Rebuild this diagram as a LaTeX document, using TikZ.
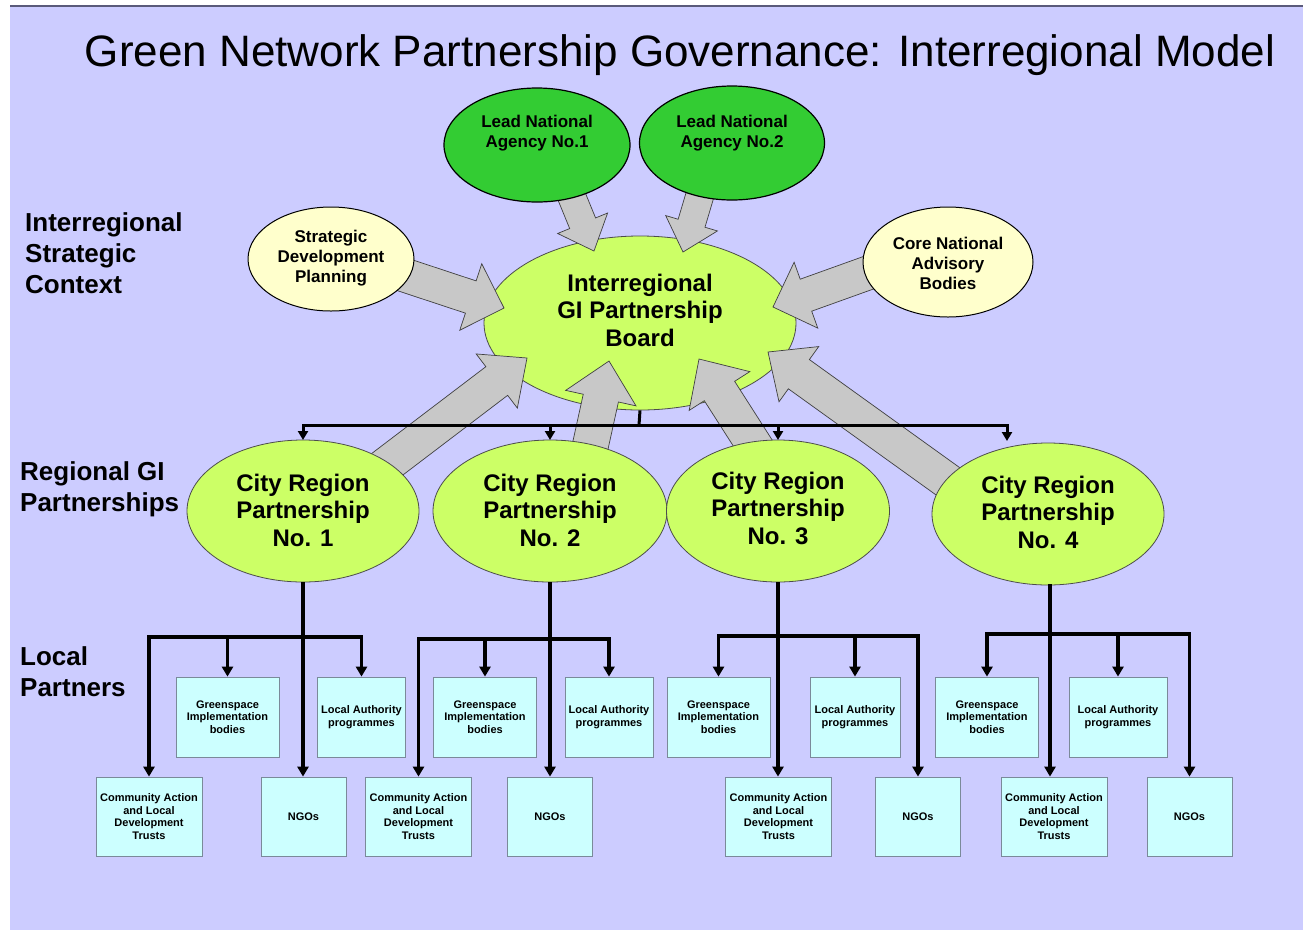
\documentclass[tikz,border=0pt]{standalone}
\usepackage{fontspec}
\setmainfont{Liberation Sans}
\usepackage{tikz}
\usetikzlibrary{arrows.meta, positioning, calc, shapes.geometric}
\definecolor{slidebg}{HTML}{CCCCFF}
\definecolor{frameline}{HTML}{5A5A7A}
\definecolor{agencygreen}{HTML}{33CC33}
\definecolor{contextyellow}{HTML}{FFFFCC}
\definecolor{boardlime}{HTML}{CCFF66}
\definecolor{partnercyan}{HTML}{CCFFFF}
\definecolor{boxline}{HTML}{7A8A9A}
\definecolor{flowgrey}{HTML}{C8C8C8}

% fat grey arrow: tail, tip, body half width, head half width, head length
\newcommand{\blockarrow}[5]{%
  \coordinate (ba-neck) at ($(#2)!#5!(#1)$);
  \draw[flow] ($(#1)!#3!90:(#2)$) -- ($(ba-neck)!#3!90:(#2)$) -- ($(ba-neck)!#4!90:(#2)$)
    -- (#2) -- ($(ba-neck)!#4!-90:(#2)$) -- ($(ba-neck)!#3!-90:(#2)$) -- ($(#1)!#3!-90:(#2)$) -- cycle;
}

\begin{document}
\begin{tikzpicture}[x=1pt, y=-1pt,
    title/.style={font=\fontsize{44}{50}\selectfont, anchor=base},
    tier/.style={font=\fontsize{26}{31}\selectfont\bfseries, align=left, anchor=west, inner sep=0pt},
    agency/.style={ellipse, draw=black, line width=1.2pt, fill=agencygreen, inner sep=0pt},
    advisory/.style={ellipse, draw=black, line width=1pt, fill=contextyellow, inner sep=0pt},
    hub/.style={ellipse, draw=black!70, line width=0.8pt, fill=boardlime, inner sep=0pt},
    smalltxt/.style={font=\fontsize{17}{20}\selectfont\bfseries, align=center, inner sep=0pt},
    bigtxt/.style={font=\fontsize{24}{27.5}\selectfont\bfseries, align=center, inner sep=0pt},
    partner/.style={draw=boxline, line width=0.8pt, fill=partnercyan, align=center, inner sep=1pt,
      font=\fontsize{11}{12.5}\selectfont\bfseries},
    flow/.style={draw=black!75, line width=0.7pt, fill=flowgrey, line join=miter},
    link/.style={line width=3pt, -{Triangle[length=9pt,width=10pt]}},
    branch/.style={line width=3.3pt, -{Triangle[length=10pt,width=11pt]}},
]
\useasboundingbox (0,0) rectangle (1303,930);

% slide background
\fill[white] (0,0) rectangle (1303,930);
\fill[slidebg] (10,6) rectangle (1303,930);
\draw[frameline, line width=1.5pt] (10,6) -- (1303,6);

\node[title] (title) at (680,66) {Green Network Partnership Governance: Interregional Model};

% tier labels
\node[tier] (tier1) at (25,253) {Interregional\\Strategic\\Context};
\node[tier] (tier2) at (20,489) {Regional GI\\Partnerships};
\node[tier] (tier3) at (20,672) {Local\\Partners};

% central board
\node[hub, minimum width=312pt, minimum height=174pt] (board) at (640,323) {};
\node[bigtxt] (board-txt) at (640,310) {Interregional\\GI Partnership\\Board};

% grey influence arrows
\coordinate (f1s) at (560,168); \coordinate (f1t) at (594,251);
\coordinate (f2s) at (708,168); \coordinate (f2t) at (683,252);
\coordinate (f3s) at (380,267); \coordinate (f3t) at (504,308);
\coordinate (f4s) at (890,265); \coordinate (f4t) at (773,307);
\coordinate (f5s) at (360,485); \coordinate (f5t) at (527,358);
\coordinate (f6s) at (585,470); \coordinate (f6t) at (609,361);
\coordinate (f7s) at (770,470); \coordinate (f7t) at (699,359);
\coordinate (f8s) at (960,490); \coordinate (f8t) at (768,352);
\blockarrow{f1s}{f1t}{14pt}{27pt}{30pt}
\blockarrow{f2s}{f2t}{14pt}{27pt}{30pt}
\blockarrow{f3s}{f3t}{17pt}{35pt}{35pt}
\blockarrow{f4s}{f4t}{17pt}{35pt}{35pt}
\blockarrow{f5s}{f5t}{18pt}{34pt}{38pt}
\blockarrow{f6s}{f6t}{18pt}{36pt}{38pt}
\blockarrow{f7s}{f7t}{18pt}{36pt}{38pt}
\blockarrow{f8s}{f8t}{18pt}{34pt}{38pt}

% national level
\node[agency, minimum width=186pt, minimum height=114pt] (lna1) at (537,145) {};
\node[smalltxt] (lna1-txt) at (537,133) {Lead National\\Agency No.1};
\node[agency, minimum width=185pt, minimum height=114pt] (lna2) at (732,143) {};
\node[smalltxt] (lna2-txt) at (732,133) {Lead National\\Agency No.2};
\node[advisory, minimum width=166pt, minimum height=104pt] (sdp) at (331,259) {};
\node[smalltxt] (sdp-txt) at (331,258) {Strategic\\Development\\Planning};
\node[advisory, minimum width=170pt, minimum height=110pt] (cnab) at (948,262) {};
\node[smalltxt] (cnab-txt) at (948,263) {Core National\\Advisory\\Bodies};

% city region partnerships
\node[hub, minimum width=232pt, minimum height=142pt] (crp1) at (303,511) {};
\node[bigtxt] (crp1-txt) at (303,510) {City Region\\Partnership\\No. 1};
\node[hub, minimum width=234pt, minimum height=142pt] (crp2) at (550,511) {};
\node[bigtxt] (crp2-txt) at (550,510) {City Region\\Partnership\\No. 2};
\node[hub, minimum width=223pt, minimum height=142pt] (crp3) at (778,511) {};
\node[bigtxt] (crp3-txt) at (778,508) {City Region\\Partnership\\No. 3};
\node[hub, minimum width=232pt, minimum height=142pt] (crp4) at (1048,514) {};
\node[bigtxt] (crp4-txt) at (1048,512) {City Region\\Partnership\\No. 4};

% board to partnerships
\coordinate (bj) at (639,425);
\coordinate (c1in) at (303,440);
\coordinate (c2in) at (550,440);
\coordinate (c3in) at (778,440);
\coordinate (c4in) at (1007,441);
\draw[line width=3pt] (board.south) -- (bj);
\foreach \c in {c1in, c2in, c3in, c4in}
  \draw[link] (bj) -| (\c);

% local partners
\foreach \i/\gx/\lx/\lw/\cx/\nx in {1/227.5/361.5/88/149/303.5, 2/485/609/88/418.5/550,
    3/718.5/855/90/778.5/918, 4/987/1118/98/1054/1189.5} {
  \node[partner, minimum width=103pt, minimum height=80pt] (gs\i) at (\gx,717) {Greenspace\\Implementation\\bodies};
  \node[partner, minimum width=\lw pt, minimum height=80pt] (la\i) at (\lx,717) {Local Authority\\programmes};
  \node[partner, minimum width=106pt, minimum height=79pt] (ca\i) at (\cx,816.5) {Community Action\\and Local\\Development\\Trusts};
  \node[partner, minimum width=85pt, minimum height=79pt] (ngo\i) at (\nx,816.5) {NGOs};
}

\coordinate (j1) at (303,637);
\draw[branch] (crp1.south) -- (crp1.south |- ngo1.north);
\foreach \b in {ca1, gs1, la1} \draw[branch] (j1) -| (\b.north);

\coordinate (j2) at (550,639);
\draw[branch] (crp2.south) -- (crp2.south |- ngo2.north);
\foreach \b in {ca2, gs2, la2} \draw[branch] (j2) -| (\b.north);

\coordinate (j3) at (778,636);
\draw[branch] (crp3.south) -- (crp3.south |- ca3.north);
\foreach \b in {gs3, la3, ngo3} \draw[branch] (j3) -| (\b.north);

\coordinate (j4) at (1050,634);
\draw[branch] (crp4.south) -- (crp4.south -| j4) -- (j4 |- ca4.north);
\foreach \b in {gs4, la4, ngo4} \draw[branch] (j4) -| (\b.north);

\end{tikzpicture}
\end{document}
